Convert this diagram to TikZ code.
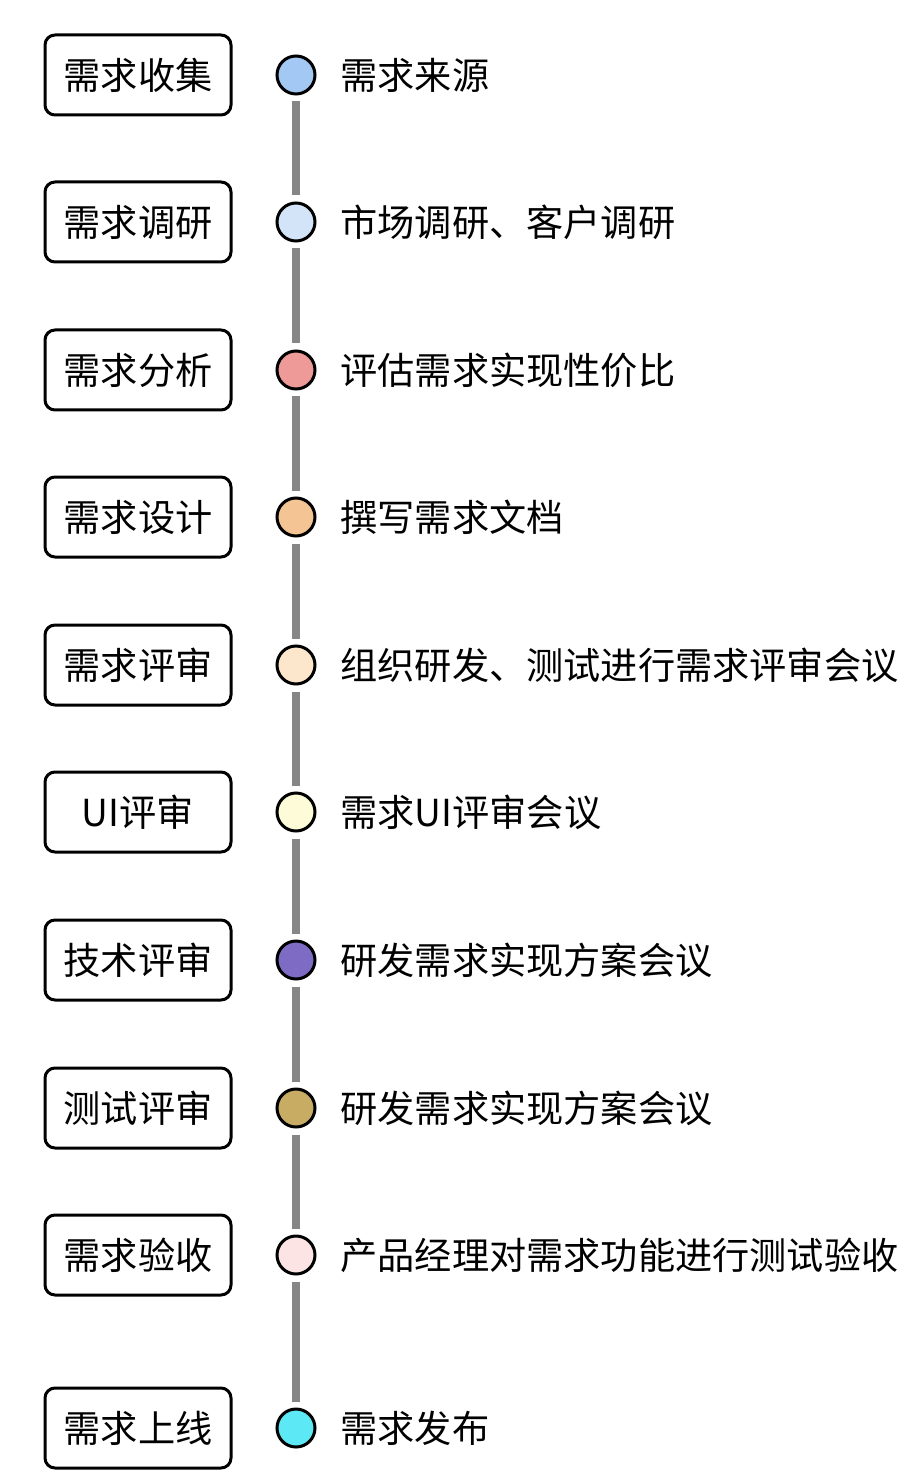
\documentclass[tikz,border=0pt]{standalone}
\usepackage{fontspec}
\setmainfont{Noto Sans CJK SC}
\usetikzlibrary{positioning}
\definecolor{cA}{HTML}{A4C8F4}
\definecolor{cB}{HTML}{D4E4F8}
\definecolor{cC}{HTML}{EE9A98}
\definecolor{cD}{HTML}{F4C494}
\definecolor{cE}{HTML}{FCE6CC}
\definecolor{cF}{HTML}{FEFCD8}
\definecolor{cG}{HTML}{7E6CC4}
\definecolor{cH}{HTML}{C8AC64}
\definecolor{cI}{HTML}{FCE4E4}
\definecolor{cJ}{HTML}{5CE8F4}
\begin{document}
\begin{tikzpicture}[
        x=0.5pt, y=-0.5pt,
        stage/.style={draw, line width=1.5pt, rounded corners=5pt, minimum width=93pt, minimum height=40pt, font=\fontsize{18.6}{20}\selectfont},
        dot/.style={circle, draw, line width=1.5pt, minimum size=19pt, inner sep=0pt},
        desc/.style={anchor=west, inner sep=0pt, font=\fontsize{18.6}{20}\selectfont},
        link/.style={line width=4pt, draw=gray!95}
    ]
        \useasboundingbox (0,0) rectangle (919,1470);

        \foreach \i/\y/\c/\s/\d in {1/75/cA/需求收集/需求来源,
                2/222/cB/需求调研/市场调研、客户调研,
                3/370/cC/需求分析/评估需求实现性价比,
                4/517/cD/需求设计/撰写需求文档,
                5/665/cE/需求评审/组织研发、测试进行需求评审会议,
                6/812/cF/UI评审/需求UI评审会议,
                7/960/cG/技术评审/研发需求实现方案会议,
                8/1108/cH/测试评审/研发需求实现方案会议,
                9/1255/cI/需求验收/产品经理对需求功能进行测试验收,
                10/1428/cJ/需求上线/需求发布}{
            \node[stage] (s\i) at (138,\y) {\s};
            \node[dot, fill=\c] (d\i) at (296,\y) {};
            \node[desc] (t\i) at (340,\y) {\d};
        }

        \foreach \i [evaluate=\i as \j using int(\i+1)] in {1,...,9}
            \draw[link] ([yshift=-3pt]d\i.south) -- ([yshift=3pt]d\j.north);
    \end{tikzpicture}
\end{document}
